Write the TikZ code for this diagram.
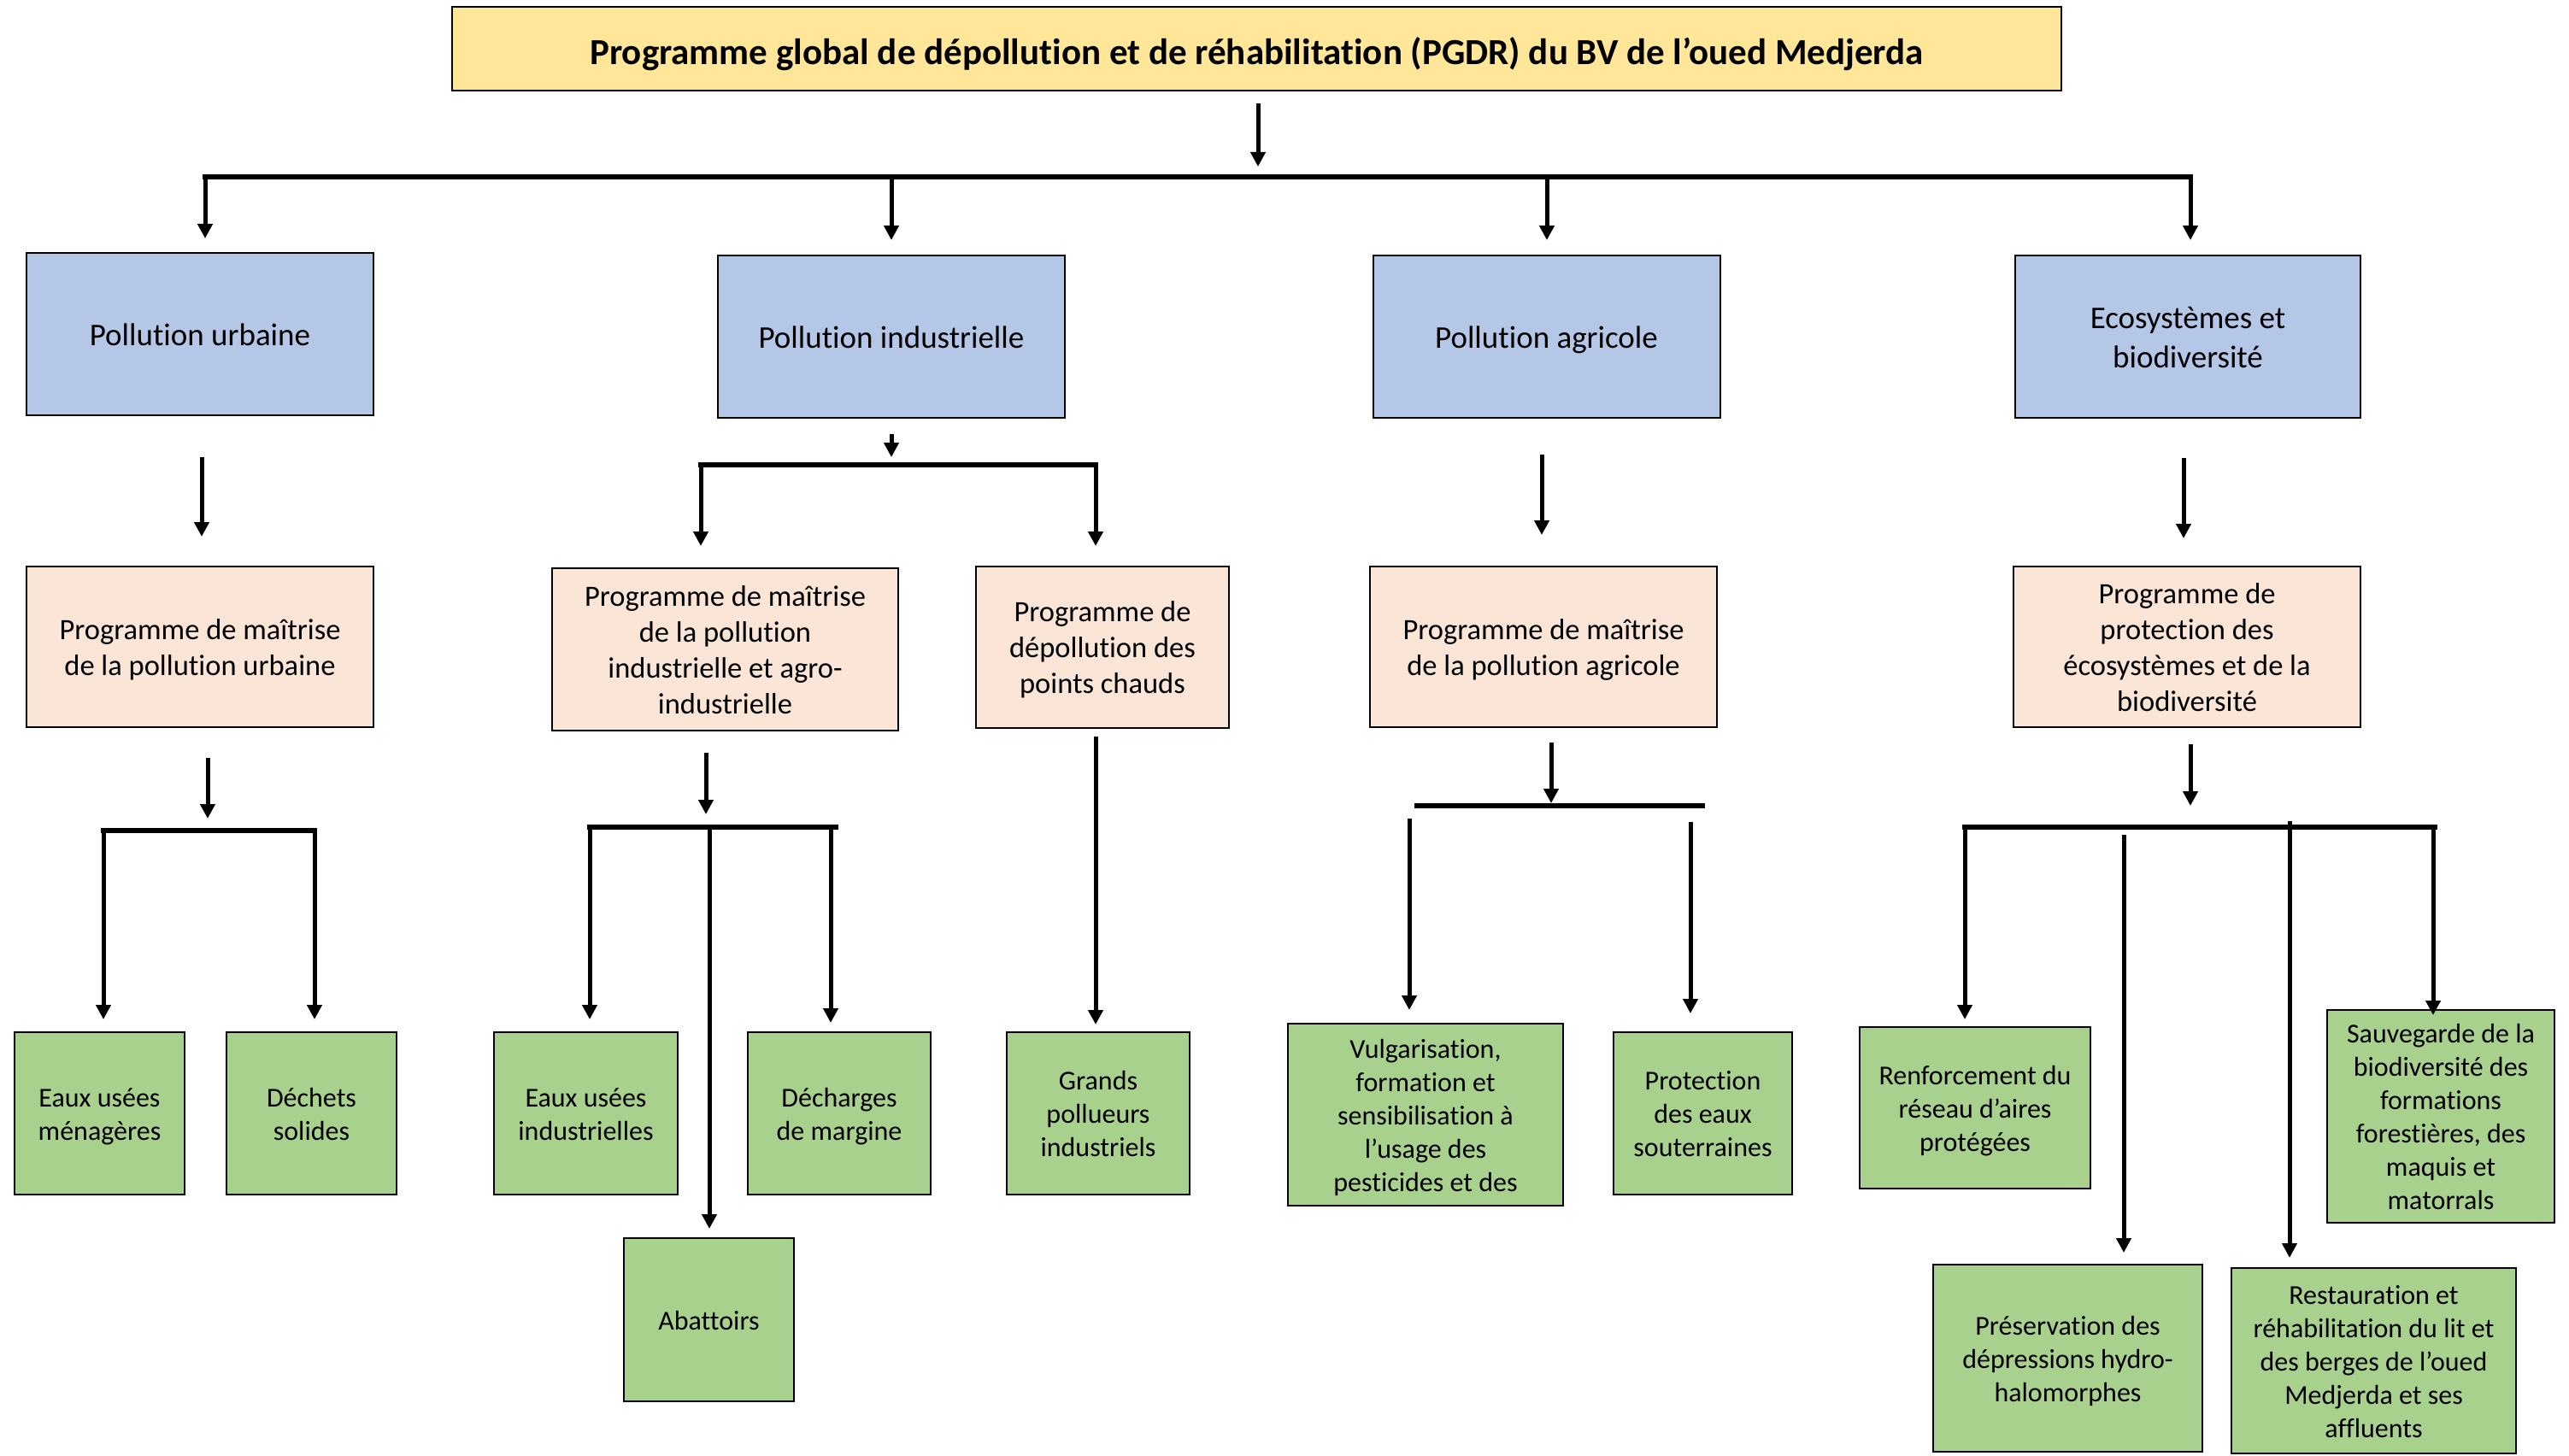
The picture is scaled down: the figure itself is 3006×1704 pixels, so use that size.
\documentclass[tikz,border=0pt]{standalone}
\usepackage{fontspec}
\setmainfont{Carlito}[Ligatures={NoCommon}]
\usetikzlibrary{arrows.meta}
\definecolor{cyel}{HTML}{FFE699}
\definecolor{cblue}{HTML}{B4C7E7}
\definecolor{cpink}{HTML}{FBE5D6}
\definecolor{cgreen}{HTML}{A9D18E}
\newcommand\tx[2][4pt]{\raisebox{-#1}[\height][\depth]{\begin{tabular}{@{}c@{}}#2\end{tabular}}}
\tikzset{
  bx/.style={draw=black, line width=2pt, inner sep=0pt},
  ttl/.style={bx, fill=cyel, minimum width=1883pt, minimum height=98pt, font=\fontsize{43}{52}\selectfont\bfseries},
  blu/.style={bx, fill=cblue, minimum width=406pt, minimum height=190pt, font=\fontsize{37}{46}\selectfont},
  pnk/.style={bx, fill=cpink, minimum height=188pt, font=\fontsize{34.5}{42}\selectfont},
  grn/.style={bx, fill=cgreen, font=\fontsize{32}{39}\selectfont},
  arr/.style={line width=5pt, -{Triangle[length=17pt,width=17pt]}},
  barl/.style={line width=6pt, line cap=rect},
}
\begin{document}
\begin{tikzpicture}[x=1pt,y=-1pt]
\useasboundingbox[fill=white] (0,0) rectangle (3006,1704);

% title
\node[ttl] (title) at (1470.5,57) {\tx[8pt]{Programme global de dépollution et de réhabilitation (PGDR) du BV de l’oued Medjerda}};

% level 1
\node[blu] (pu) at (234,391) {\tx{Pollution urbaine}};
\node[blu] (pi) at (1043,394) {\tx{Pollution industrielle}};
\node[blu] (pa) at (1809.5,394) {\tx{Pollution agricole}};
\node[blu, minimum width=404pt] (pe) at (2560,394) {\tx{Ecosystèmes et\\biodiversité}};

% level 2
\node[pnk, minimum width=406pt] (ru) at (234,757) {\tx{Programme de maîtrise\\de la pollution urbaine}};
\node[pnk, minimum width=405pt, minimum height=190pt] (ri) at (848.5,760) {\tx{Programme de maîtrise\\de la pollution\\industrielle et agro-\\industrielle}};
\node[pnk, minimum width=296pt, minimum height=189pt] (rc) at (1290,757.5) {\tx{Programme de\\dépollution des\\points chauds}};
\node[pnk, minimum width=406pt] (ra) at (1806,757) {\tx{Programme de maîtrise\\de la pollution agricole}};
\node[pnk, minimum width=406pt] (re) at (2559,757) {\tx{Programme de\\protection des\\écosystèmes et de la\\biodiversité}};

% level 3
\node[grn, minimum width=199pt, minimum height=190pt] (g1) at (116.5,1303) {\tx{Eaux usées\\ménagères}};
\node[grn, minimum width=199pt, minimum height=190pt] (g2) at (364.5,1303) {\tx{Déchets\\solides}};
\node[grn, minimum width=215pt, minimum height=190pt] (g3) at (685.5,1303) {\tx{Eaux usées\\industrielles}};
\node[grn, minimum width=214pt, minimum height=190pt] (g4) at (982,1303) {\tx{Décharges\\de margine}};
\node[grn, minimum width=199pt, minimum height=191pt] (g5) at (829.5,1544.5) {\tx{Abattoirs}};
\node[grn, minimum width=214pt, minimum height=190pt] (g6) at (1285,1303) {\tx{Grands\\pollueurs\\industriels}};
\node[grn, minimum width=322pt, minimum height=213pt] (g7) at (1668,1304.5) {\tx{Vulgarisation,\\formation et\\sensibilisation à\\l’usage des\\pesticides et des}};
\node[grn, minimum width=209pt, minimum height=190pt] (g8) at (1992.5,1303) {\tx{Protection\\des eaux\\souterraines}};
\node[grn, minimum width=270pt, minimum height=189pt] (g9) at (2311,1296.5) {\tx{Renforcement du\\réseau d’aires\\protégées}};
\node[grn, minimum width=266pt, minimum height=249pt] (g10) at (2856,1306.5) {\tx{Sauvegarde de la\\biodiversité des\\formations\\forestières, des\\maquis et\\matorrals}};
\node[grn, minimum width=315pt, minimum height=219pt] (g11) at (2419.5,1589.5) {\tx{Préservation des\\dépressions hydro-\\halomorphes}};
\node[grn, minimum width=333pt, minimum height=217pt] (g12) at (2777.5,1592.5) {\tx{Restauration et\\réhabilitation du lit et\\des berges de l’oued\\Medjerda et ses\\affluents}};

% ---- connectors level 0 -> 1
\coordinate (J0) at (1472,207);
\coordinate (B0a) at (240,207);
\coordinate (B0b) at (2563,207);
\coordinate (B0c) at (1043,207);
\coordinate (B0d) at (1810,207);
\draw[arr, shorten <=14pt, shorten >=12pt] (title.south -| J0) -- (J0);
\draw[barl] (B0a) -- (B0b);
\draw[arr, shorten >=16pt] (B0a) -- (B0a |- pu.north);
\draw[arr, shorten >=17pt] (B0c) -- (B0c |- pi.north);
\draw[arr, shorten >=17pt] (B0d) -- (B0d |- pa.north);
\draw[arr, shorten >=17pt] (B0b) -- (B0b |- pe.north);

% ---- level 1 -> 2
\coordinate (K1) at (236,600);
\coordinate (K2) at (1804,600);
\coordinate (K3) at (2555,600);
\draw[arr, shorten <=48pt, shorten >=34pt] (pu.south -| K1) -- (K1 |- ru.north);
\draw[arr, shorten <=42pt, shorten >=36pt] (pa.south -| K2) -- (K2 |- ra.north);
\draw[arr, shorten <=46pt, shorten >=32pt] (pe.south -| K3) -- (K3 |- re.north);
\coordinate (J1) at (1043,544);
\coordinate (B1a) at (820,544);
\coordinate (B1b) at (1282,544);
\draw[arr, shorten <=18pt, shorten >=9pt] (pi.south) -- (J1);
\draw[barl] (B1a) -- (B1b);
\draw[arr, shorten >=25pt] (B1a) -- (B1a |- ri.north);
\draw[arr, shorten >=23pt] (B1b) -- (B1b |- rc.north);

% ---- level 2 -> 3 : urbaine
\coordinate (J2) at (243,972);
\coordinate (B2a) at (121,972);
\coordinate (B2b) at (368,972);
\draw[arr, shorten <=35pt, shorten >=14pt] (ru.south -| J2) -- (J2);
\draw[barl] (B2a) -- (B2b);
\draw[arr, shorten >=14pt] (B2a) -- (B2a |- g1.north);
\draw[arr, shorten >=14pt] (B2b) -- (B2b |- g2.north);

% industrielle
\coordinate (J3) at (826,968);
\coordinate (B3a) at (690,968);
\coordinate (B3b) at (978,968);
\coordinate (B3c) at (830,968);
\coordinate (B3d) at (972,968);
\draw[arr, shorten <=25pt, shorten >=15pt] (ri.south -| J3) -- (J3);
\draw[barl] (B3a) -- (B3b);
\draw[arr, shorten >=14pt] (B3a) -- (B3a |- g3.north);
\draw[arr, shorten >=10pt] (B3c) -- (B3c |- g5.north);
\draw[arr, shorten >=10pt] (B3d) -- (B3d |- g4.north);

% points chauds
\draw[arr, shorten <=9pt, shorten >=8pt] (rc.south -| B1b) -- (B1b |- g6.north);

% agricole
\coordinate (J4) at (1815,943);
\coordinate (B4a) at (1655,943);
\coordinate (B4b) at (1995,943);
\coordinate (D4a) at (1649,958);
\coordinate (D4b) at (1978,962);
\draw[arr, shorten <=17pt, shorten >=3pt] (ra.south -| J4) -- (J4);
\draw[line width=6pt] (B4a) -- (B4b);
\draw[arr, shorten >=15pt] (D4a) -- (D4a |- g7.north);
\draw[arr, shorten >=21pt] (D4b) -- (D4b |- g8.north);

% ecosystemes
\coordinate (J5) at (2563,968);
\coordinate (B5a) at (2299,968);
\coordinate (B5b) at (2849,968);
\coordinate (D5a) at (2485,977);
\coordinate (D5b) at (2679,961);
\coordinate (D5c) at (2847,968);
\draw[arr, shorten <=19pt, shorten >=25pt] (re.south -| J5) -- (J5);
\draw[barl] (B5a) -- (B5b);
\draw[arr, shorten >=8pt] (B5a) -- (B5a |- g9.north);
\draw[arr, shorten >=13pt] (D5a) -- (D5a |- g11.north);
\draw[arr, shorten >=11pt] (D5b) -- (D5b |- g12.north);
\draw[arr, shorten >=-7pt] (D5c) -- (D5c |- g10.north);
\end{tikzpicture}
\end{document}
